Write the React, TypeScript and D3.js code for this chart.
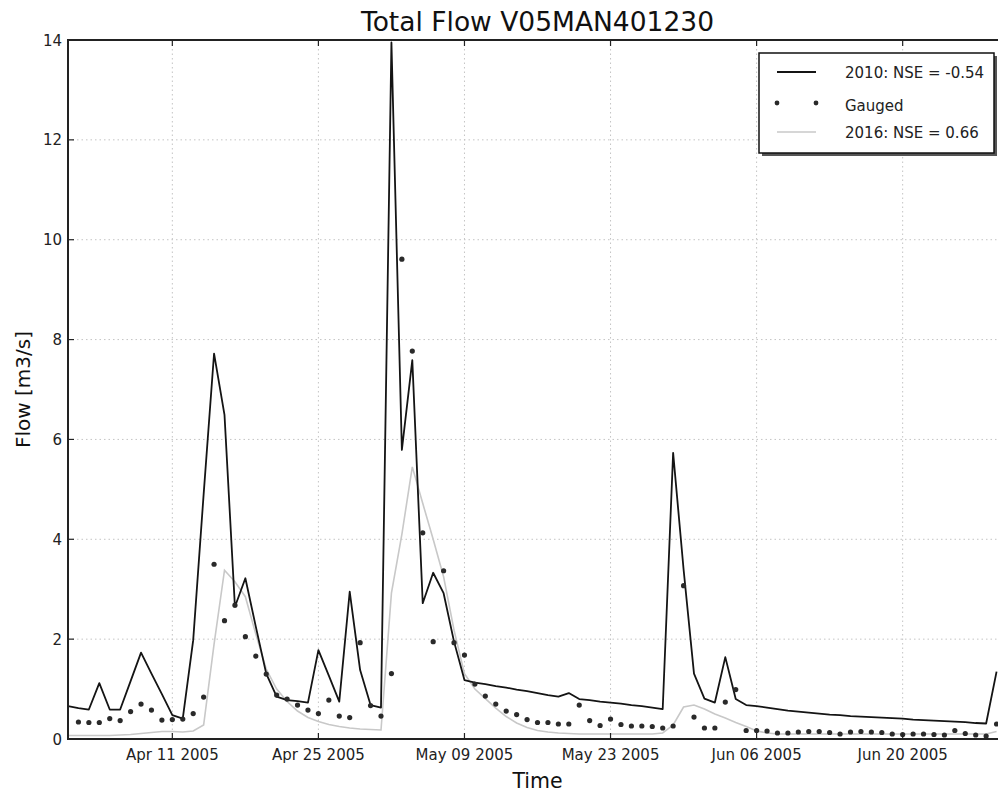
import React, { useEffect, useRef } from 'react';
import * as d3 from 'd3';

// daily values starting Apr 1 2005
const startDate = new Date(Date.UTC(2005, 3, 1));
const endDate = new Date(Date.UTC(2005, 5, 30));

const flow2010: number[] = [
  0.66, 0.62, 0.59, 1.12, 0.59, 0.59, 1.16, 1.73, 1.31, 0.9,
  0.48, 0.41, 1.98, 4.9, 7.72, 6.49, 2.65, 3.22, 2.25, 1.31,
  0.85, 0.78, 0.76, 0.73, 1.78, 1.27, 0.75, 2.95, 1.38, 0.68,
  0.63, 13.95, 5.79, 7.59, 2.72, 3.33, 2.92, 1.95, 1.18, 1.13,
  1.1, 1.06, 1.03, 0.99, 0.96, 0.92, 0.88, 0.85, 0.92, 0.8,
  0.78, 0.75, 0.73, 0.71, 0.68, 0.66, 0.63, 0.6, 5.73, 3.4,
  1.31, 0.81, 0.73, 1.64, 0.8, 0.68, 0.66, 0.63, 0.6, 0.57,
  0.55, 0.53, 0.51, 0.49, 0.48, 0.46, 0.45, 0.44, 0.43, 0.42,
  0.41, 0.39, 0.38, 0.37, 0.36, 0.35, 0.34, 0.32, 0.31, 1.35,
];

const gauged: (number | null)[] = [
  null, 0.34, 0.33, 0.33, 0.41, 0.37, 0.55, 0.7, 0.58, 0.38,
  0.39, 0.4, 0.51, 0.84, 3.5, 2.37, 2.68, 2.05, 1.66, 1.3,
  0.88, 0.8, 0.68, 0.58, 0.51, 0.78, 0.46, 0.43, 1.93, 0.67,
  0.46, 1.31, 9.61, 7.77, 4.13, 1.95, 3.37, 1.93, 1.68, 1.1,
  0.86, 0.7, 0.56, 0.49, 0.39, 0.33, 0.33, 0.3, 0.3, 0.68,
  0.37, 0.27, 0.4, 0.29, 0.26, 0.26, 0.25, 0.22, 0.26, 3.07,
  0.44, 0.22, 0.22, 0.74, 0.99, 0.17, 0.17, 0.16, 0.12, 0.12,
  0.14, 0.15, 0.15, 0.13, 0.1, 0.14, 0.15, 0.14, 0.13, 0.1,
  0.09, 0.1, 0.1, 0.09, 0.08, 0.17, 0.11, 0.08, 0.06, 0.3,
];

const flow2016: number[] = [
  0.07, 0.07, 0.07, 0.07, 0.07, 0.08, 0.09, 0.11, 0.13, 0.15,
  0.15, 0.14, 0.16, 0.28, 1.9, 3.38, 3.15, 2.85, 2.1, 1.4,
  1.0, 0.75, 0.56, 0.43, 0.35, 0.29, 0.25, 0.22, 0.2, 0.19,
  0.18, 2.92, 4.1, 5.45, 4.72, 4.0, 3.25, 2.18, 1.31, 1.0,
  0.81, 0.62, 0.45, 0.32, 0.23, 0.17, 0.14, 0.12, 0.11, 0.1,
  0.1, 0.1, 0.1, 0.1, 0.1, 0.1, 0.1, 0.12, 0.28, 0.64,
  0.68, 0.6, 0.5, 0.42, 0.33, 0.25, 0.16, 0.12, 0.1, 0.1,
  0.1, 0.1, 0.1, 0.1, 0.1, 0.1, 0.1, 0.1, 0.1, 0.1,
  0.1, 0.1, 0.1, 0.1, 0.1, 0.1, 0.1, 0.1, 0.1, 0.15,
];

const yTicks = [0, 2, 4, 6, 8, 10, 12, 14];
const legendLabels = ['2010: NSE = -0.54', 'Gauged', '2016: NSE = 0.66'];

const W = 998;
const H = 796;
const margin = { left: 68, top: 40, right: 1007, bottom: 739 };
const font = 'DejaVu Sans, sans-serif';

const App: React.FC = () => {
  const ref = useRef<SVGSVGElement | null>(null);

  useEffect(() => {
    const svg = d3.select(ref.current);
    svg.selectAll('*').remove();

    const x = d3.scaleUtc().domain([startDate, endDate]).range([margin.left, margin.right]);
    const y = d3.scaleLinear().domain([0, 14]).range([margin.bottom, margin.top]);
    const day = (i: number) => d3.utcDay.offset(startDate, i);
    const xTicks = d3.range(10, 90, 14).map(day);

    svg.append('rect').attr('width', W).attr('height', H).attr('fill', '#fff');

    svg.append('clipPath').attr('id', 'plot-clip')
      .append('rect')
      .attr('x', margin.left).attr('y', margin.top)
      .attr('width', margin.right - margin.left).attr('height', margin.bottom - margin.top);

    // grid
    const grid = svg.append('g').attr('stroke', '#c4c4c4').attr('stroke-width', 1).attr('stroke-dasharray', '1.5,3');
    xTicks.forEach(t => {
      grid.append('line').attr('x1', x(t)).attr('x2', x(t)).attr('y1', margin.top).attr('y2', margin.bottom);
    });
    yTicks.forEach(t => {
      grid.append('line').attr('x1', margin.left).attr('x2', margin.right).attr('y1', y(t)).attr('y2', y(t));
    });

    const plot = svg.append('g').attr('clip-path', 'url(#plot-clip)');

    const line = d3.line<number>().x((_, i) => x(day(i))).y(d => y(d));

    plot.append('path').datum(flow2016)
      .attr('d', line).attr('fill', 'none')
      .attr('stroke', '#c8c8c8').attr('stroke-width', 1.6);

    plot.append('path').datum(flow2010)
      .attr('d', line).attr('fill', 'none')
      .attr('stroke', '#141414').attr('stroke-width', 1.8).attr('stroke-linejoin', 'round');

    plot.selectAll('circle.g')
      .data(gauged.map((v, i) => ({ v, i })).filter(d => d.v !== null))
      .enter().append('circle')
      .attr('cx', d => x(day(d.i)))
      .attr('cy', d => y(d.v as number))
      .attr('r', 2.6)
      .attr('fill', '#2a2a2a');

    // ticks (pointing inward)
    const tk = svg.append('g').attr('stroke', '#222').attr('stroke-width', 1.2);
    xTicks.forEach(t => {
      tk.append('line').attr('x1', x(t)).attr('x2', x(t)).attr('y1', margin.bottom).attr('y2', margin.bottom - 6);
      tk.append('line').attr('x1', x(t)).attr('x2', x(t)).attr('y1', margin.top).attr('y2', margin.top + 6);
    });
    yTicks.forEach(t => {
      tk.append('line').attr('x1', margin.left).attr('x2', margin.left + 6).attr('y1', y(t)).attr('y2', y(t));
    });

    // frame
    svg.append('rect')
      .attr('x', margin.left).attr('y', margin.top)
      .attr('width', margin.right - margin.left).attr('height', margin.bottom - margin.top)
      .attr('fill', 'none').attr('stroke', '#222').attr('stroke-width', 2);

    // tick labels
    const fmt = d3.utcFormat('%b %d %Y');
    svg.append('g').selectAll('text').data(xTicks).enter().append('text')
      .attr('x', d => x(d)).attr('y', 760)
      .attr('text-anchor', 'middle')
      .attr('font-family', font).attr('font-size', 15).attr('fill', '#222')
      .text(d => fmt(d));

    svg.append('g').selectAll('text').data(yTicks).enter().append('text')
      .attr('x', 62).attr('y', d => y(d) + 5.5)
      .attr('text-anchor', 'end')
      .attr('font-family', font).attr('font-size', 15).attr('fill', '#222')
      .text(d => d);

    // title and axis labels
    svg.append('text')
      .attr('x', (margin.left + margin.right) / 2).attr('y', 31)
      .attr('text-anchor', 'middle')
      .attr('font-family', font).attr('font-size', 26.5).attr('fill', '#111')
      .text('Total Flow V05MAN401230');

    svg.append('text')
      .attr('x', (margin.left + margin.right) / 2).attr('y', 788)
      .attr('text-anchor', 'middle')
      .attr('font-family', font).attr('font-size', 20.5).attr('fill', '#111')
      .text('Time');

    svg.append('text')
      .attr('transform', `translate(30, ${(margin.top + margin.bottom) / 2}) rotate(-90)`)
      .attr('text-anchor', 'middle')
      .attr('font-family', font).attr('font-size', 20).attr('fill', '#111')
      .text('Flow [m3/s]');

    // legend
    const lg = svg.append('g').attr('transform', 'translate(759, 53)');
    lg.append('rect').attr('x', 3).attr('y', 3).attr('width', 235).attr('height', 100).attr('fill', '#555');
    lg.append('rect').attr('width', 235).attr('height', 100)
      .attr('fill', '#fff').attr('stroke', '#111').attr('stroke-width', 1.5);

    const rows = [19, 52, 79];
    lg.append('line').attr('x1', 18).attr('x2', 57).attr('y1', rows[0]).attr('y2', rows[0])
      .attr('stroke', '#141414').attr('stroke-width', 1.8);
    [18, 57].forEach(cx => {
      lg.append('circle').attr('cx', cx).attr('cy', rows[1] - 2).attr('r', 2.4).attr('fill', '#2a2a2a');
    });
    lg.append('line').attr('x1', 18).attr('x2', 57).attr('y1', rows[2]).attr('y2', rows[2])
      .attr('stroke', '#c8c8c8').attr('stroke-width', 1.6);

    legendLabels.forEach((label, i) => {
      lg.append('text')
        .attr('x', 86).attr('y', rows[i] + 5.5)
        .attr('font-family', font).attr('font-size', 15).attr('fill', '#222')
        .text(label);
    });
  }, []);

  return (
    <svg
      ref={ref}
      width={W}
      height={H}
      style={{ position: 'absolute', left: 0, top: 0, display: 'block' }}
    />
  );
};

export default App;
